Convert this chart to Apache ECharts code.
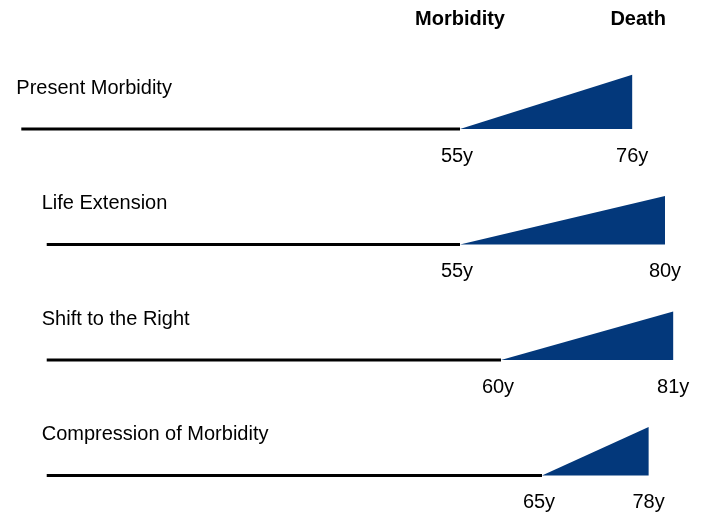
<!DOCTYPE html>
<html>
<head>
<meta charset="utf-8">
<script src="https://cdn.jsdelivr.net/npm/echarts@6/dist/echarts.min.js"></script>
<style>
  html, body { margin: 0; padding: 0; background: #fff; }
  #chart { width: 708px; height: 514px; }
</style>
</head>
<body>
<div id="chart"></div>
<script>
// scenarios, one per row
var rowNames = ['Present Morbidity', 'Life Extension', 'Shift to the Right', 'Compression of Morbidity'];
var lifeStart = [1.5, 4.6, 4.6, 4.6];       // where the life line starts (age, schematic)
var morbidityAge = [55, 55, 60, 65];        // onset of morbidity
var deathAge = [76, 80, 81, 78];            // age at death
var morbidityLevel = [0.47, 0.42, 0.42, 0.42]; // height of the wedge (row units)
var headers = ['Morbidity', 'Death'];

var FONT = '"Liberation Sans", Arial, sans-serif';
var wedgeColor = '#03387b';

var rows = [];
for (var i = 0; i < rowNames.length; i++) {
	rows.push([lifeStart[i], morbidityAge[i], deathAge[i], i, morbidityLevel[i]]);
}

function renderRow(params, api) {
	var row = api.value(3);
	var p0 = api.coord([api.value(0), row]);
	var p1 = api.coord([api.value(1), row]);
	var p2 = api.coord([api.value(2), row]);
	var p3 = api.coord([api.value(2), row - api.value(4)]);
	var children = [
		{
			type : 'line',
			shape : { x1 : p0[0], y1 : p0[1], x2 : p1[0], y2 : p1[1] },
			style : { stroke : '#000', lineWidth : 3 }
		},
		{
			type : 'polygon',
			shape : { points : [ p1, p2, p3 ] },
			style : { fill : wedgeColor }
		},
		{
			type : 'text',
			x : p0[0] - 5,
			y : p0[1] - 41,
			style : {
				text : rowNames[row], fill : '#000', font : '20px ' + FONT,
				align : 'left', verticalAlign : 'middle'
			}
		},
		{
			type : 'text',
			x : p1[0] - 3,
			y : p1[1] + 27,
			style : {
				text : api.value(1) + 'y', fill : '#000', font : '20px ' + FONT,
				align : 'center', verticalAlign : 'middle'
			}
		},
		{
			type : 'text',
			x : p2[0],
			y : p2[1] + 27,
			style : {
				text : api.value(2) + 'y', fill : '#000', font : '20px ' + FONT,
				align : 'center', verticalAlign : 'middle'
			}
		}
	];
	// column headers above the first row
	if (row === 0) {
		var h = api.coord([0, -0.95])[1];
		children.push({
			type : 'text', x : p1[0], y : h,
			style : { text : headers[0], fill : '#000', font : 'bold 20px ' + FONT, align : 'center', verticalAlign : 'middle' }
		});
		children.push({
			type : 'text', x : p2[0] + 6, y : h,
			style : { text : headers[1], fill : '#000', font : 'bold 20px ' + FONT, align : 'center', verticalAlign : 'middle' }
		});
	}
	return { type : 'group', children : children };
}

var chart = echarts.init(document.getElementById('chart'));
var option = {
	animation : false,
	backgroundColor : '#fff',
	grid : { left : 9, right : 2, top : 0, bottom : 0 },
	xAxis : { type : 'value', min : 0, max : 85, show : false },
	yAxis : { type : 'value', min : -1.117, max : 3.333, inverse : true, show : false },
	series : [ {
		type : 'custom',
		renderItem : renderRow,
		data : rows,
		clip : false
	} ]
};
chart.setOption(option);
</script>
</body>
</html>
